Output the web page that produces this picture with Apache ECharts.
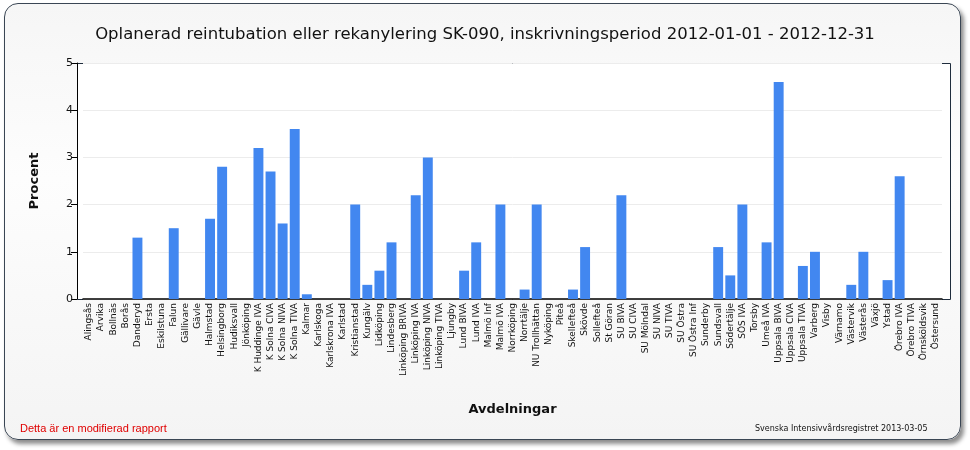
<!DOCTYPE html>
<html>
<head>
<meta charset="utf-8">
<script src="https://cdn.jsdelivr.net/npm/echarts@6/dist/echarts.min.js"></script>
<style>
html,body{margin:0;padding:0;background:#ffffff;}
#frame{position:absolute;left:4px;top:3px;width:955px;height:435px;border:1.5px solid #3a4654;border-radius:14px;
box-shadow:3px 4px 4px rgba(0,0,0,0.45);background:linear-gradient(#f6f6f6,#fdfdfd 40%,#f4f4f4);}
#chart{position:absolute;left:0;top:0;width:970px;height:450px;}
</style>
</head>
<body>
<div id="frame"></div>
<div id="chart"></div>
<script>
const categories = ["Alingsås","Arvika","Bollnäs","Borås","Danderyd","Ersta","Eskilstuna","Falun","Gällivare","Gävle",
"Halmstad","Helsingborg","Hudiksvall","Jönköping","K Huddinge IVA","K Solna CIVA","K Solna NIVA","K Solna TIVA","Kalmar","Karlskoga",
"Karlskrona IVA","Karlstad","Kristianstad","Kungälv","Lidköping","Lindesberg","Linköping BRIVA","Linköping IVA","Linköping NIVA","Linköping TIVA",
"Ljungby","Lund BIVA","Lund IVA","Malmö Inf","Malmö IVA","Norrköping","Norrtälje","NU Trollhättan","Nyköping","Piteå",
"Skellefteå","Skövde","Sollefteå","St Göran","SU BIVA","SU CIVA","SU Mölndal","SU NIVA","SU TIVA","SU Östra",
"SU Östra Inf","Sunderby","Sundsvall","Södertälje","SÖS IVA","Torsby","Umeå IVA","Uppsala BIVA","Uppsala CIVA","Uppsala TIVA",
"Varberg","Visby","Värnamo","Västervik","Västerås","Växjö","Ystad","Örebro IVA","Örebro TIVA","Örnsköldsvik","Östersund"];
const values = [0,0,0,0,1.3,0,0,1.5,0,0,
1.7,2.8,0,0,3.2,2.7,1.6,3.6,0.1,0,
0,0,2.0,0.3,0.6,1.2,0,2.2,3.0,0,
0,0.6,1.2,0,2.0,0,0.2,2.0,0,0,
0.2,1.1,0,0,2.2,0,0,0,0,0,
0,0,1.1,0.5,2.0,0,1.2,4.6,0,0.7,
1.0,0,0,0.3,1.0,0,0.4,2.6,0,0,0];
const yTicks = [0,1,2,3,4,5];
const titleText = "Oplanerad reintubation eller rekanylering SK-090, inskrivningsperiod 2012-01-01 - 2012-12-31";

const chart = echarts.init(document.getElementById('chart'));
chart.setOption({
  backgroundColor: 'transparent',
  animation: false,
  title: {
    text: titleText, left: 'center', top: 21,
    textStyle: {fontFamily: 'DejaVu Sans', fontSize: 16.5, fontWeight: 'normal', color: '#111'}
  },
  graphic: [
    {type: 'rect', left: 77, top: 63, z: -10, silent: true,
     shape: {width: 873, height: 236},
     style: {fill: '#ffffff', stroke: '#1f2d3d', lineWidth: 1}},
    {type: 'text', left: 20, top: 423,
     style: {text: 'Detta är en modifierad rapport', fill: '#e00000', font: '11px "Liberation Sans", sans-serif'}},
    {type: 'text', left: 755, top: 425,
     style: {text: 'Svenska Intensivvårdsregistret 2013-03-05', fill: '#111', font: '8px "DejaVu Sans", sans-serif'}}
  ],
  grid: {left: 83, right: 28, top: 63, bottom: 151},
  xAxis: {
    type: 'category', data: categories,
    name: 'Avdelningar', nameLocation: 'middle', nameGap: 104,
    nameTextStyle: {fontFamily: 'DejaVu Sans', fontSize: 13, fontWeight: 'bold', color: '#111'},
    axisLine: {lineStyle: {color: '#000', width: 1.5}},
    axisTick: {alignWithLabel: true, interval: function (i) { return i % 20 === 19; }, length: 5, lineStyle: {color: '#000'}},
    axisLabel: {interval: 0, rotate: 90, fontFamily: 'DejaVu Sans', fontSize: 9, color: '#111', margin: 4},
    splitLine: {show: false}
  },
  yAxis: {
    type: 'value', min: 0, max: 5, interval: 1, offset: 6,
    name: 'Procent', nameLocation: 'middle', nameGap: 36,
    nameTextStyle: {fontFamily: 'DejaVu Sans', fontSize: 13, fontWeight: 'bold', color: '#111'},
    axisLine: {show: true, lineStyle: {color: '#000', width: 1}},
    axisTick: {show: true, length: 6, lineStyle: {color: '#000'}},
    axisLabel: {fontFamily: 'DejaVu Sans', fontSize: 11, color: '#111', margin: 4,
      formatter: function (v) { return yTicks.indexOf(v) >= 0 ? String(v) : ''; }},
    splitLine: {lineStyle: {color: '#ececec'}}
  },
  series: [{
    type: 'bar', data: values, barCategoryGap: '18%',
    itemStyle: {color: '#4287f0'}
  }]
});
</script>
</body>
</html>
